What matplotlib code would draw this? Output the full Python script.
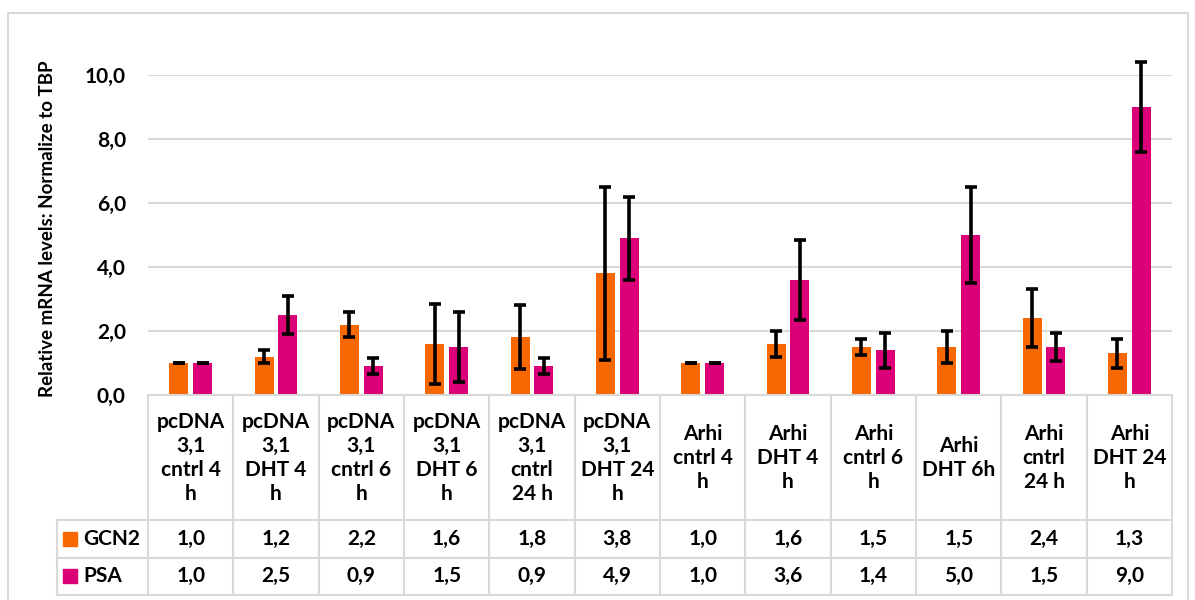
import numpy as np
import matplotlib
matplotlib.use("Agg")
import matplotlib.pyplot as plt
from matplotlib.patches import Rectangle

plt.rcParams['font.family'] = ['Lato', 'DejaVu Sans']
plt.rcParams['font.weight'] = 'bold'

# data
categories = ["pcDNA\n3,1\ncntrl 4\nh", "pcDNA\n3,1\nDHT 4\nh", "pcDNA\n3,1\ncntrl 6\nh",
              "pcDNA\n3,1\nDHT 6\nh", "pcDNA\n3,1\ncntrl\n24 h", "pcDNA\n3,1\nDHT 24\nh",
              "Arhi\ncntrl 4\nh", "Arhi\nDHT 4\nh", "Arhi\ncntrl 6\nh", "Arhi\nDHT 6h",
              "Arhi\ncntrl\n24 h", "Arhi\nDHT 24\nh"]
gcn2 = [1.0, 1.2, 2.2, 1.6, 1.8, 3.8, 1.0, 1.6, 1.5, 1.5, 2.4, 1.3]
psa = [1.0, 2.5, 0.9, 1.5, 0.9, 4.9, 1.0, 3.6, 1.4, 5.0, 1.5, 9.0]
gcn2_err = [0.0, 0.2, 0.38, 1.25, 1.0, 2.7, 0.0, 0.4, 0.25, 0.5, 0.9, 0.45]
psa_err = [0.0, 0.6, 0.25, 1.1, 0.25, 1.3, 0.0, 1.25, 0.55, 1.5, 0.45, 1.4]
series = ["GCN2", "PSA"]
colors = ["#F76900", "#DB0077"]
yticks = [0, 2, 4, 6, 8, 10]

W, H = 1195, 600
fig = plt.figure(figsize=(W / 100, H / 100), dpi=100)
grid_c = "#D9D9D9"
fs = 15

# chart border
fig.patches.append(Rectangle((8 / W, -0.02), 1180 / W, (H - 13) / H + 0.02,
                             transform=fig.transFigure, fill=False,
                             edgecolor=grid_c, linewidth=1.5))

ax = fig.add_axes([148 / W, (H - 395) / H, 1024 / W, 320 / H])
x = np.arange(len(categories))
bw = 0.223
off = 0.14
ax.bar(x - off, gcn2, bw, color=colors[0], zorder=3)
ax.bar(x + off, psa, bw, color=colors[1], zorder=3)
for xs, v, e in [(x - off, gcn2, gcn2_err), (x + off, psa, psa_err)]:
    eb = ax.errorbar(xs, v, yerr=e, fmt='none', ecolor='black', elinewidth=2.6,
                     capsize=4.3, capthick=2.6, zorder=4)
    for a in list(eb[1]) + list(eb[2]):
        a.set_clip_on(False)

ax.set_xlim(-0.5, len(categories) - 0.5)
ax.set_ylim(0, 10)
ax.set_yticks(yticks)
ax.set_yticklabels([f"{t:.1f}".replace(".", ",") for t in yticks], fontsize=fs, fontweight='bold')
ax.set_xticks([])
ax.tick_params(axis='y', length=0, pad=16)
ax.grid(axis='y', color=grid_c, linewidth=1.5, zorder=0)
for s in ax.spines.values():
    s.set_visible(False)
ax.set_ylabel("Relative mRNA levels: Normalize to TBP", fontsize=13.5, fontweight='bold')
ax.yaxis.set_label_coords(-0.09, 0.52)

# data table below the plot
colw = 1024 / len(categories)
tab = fig.add_axes([148 / W, 5 / H, 1024 / W, 200 / H], sharex=ax)
tab.set_ylim(200, 0)
tab.axis('off')
lab_left = -0.5 - 91 / colw
n = len(categories)
lw = 1.5
# horizontal lines
tab.plot([-0.5, n - 0.5], [0, 0], color=grid_c, lw=lw, clip_on=False)
for yy in [125, 162.5, 200]:
    tab.plot([lab_left, n - 0.5], [yy, yy], color=grid_c, lw=lw, clip_on=False)
# vertical lines
for k in range(n + 1):
    tab.plot([k - 0.5, k - 0.5], [0, 200], color=grid_c, lw=lw, clip_on=False)
tab.plot([lab_left, lab_left], [125, 200], color=grid_c, lw=lw, clip_on=False)

for i, c in enumerate(categories):
    tab.text(i, 62.5, c, ha='center', va='center', fontsize=fs, fontweight='bold',
             linespacing=1.25)
for r, (name, vals) in enumerate(zip(series, [gcn2, psa])):
    yc = 143.75 + r * 37.5
    tab.scatter([lab_left + 13 / colw], [yc], marker='s', s=110, color=colors[r], clip_on=False)
    tab.text(lab_left + 26 / colw, yc, name, ha='left', va='center', fontsize=fs, fontweight='bold')
    for i, v in enumerate(vals):
        tab.text(i, yc, f"{v:.1f}".replace(".", ","), ha='center', va='center',
                 fontsize=fs, fontweight='bold')

fig.savefig("out.png", dpi=100)
